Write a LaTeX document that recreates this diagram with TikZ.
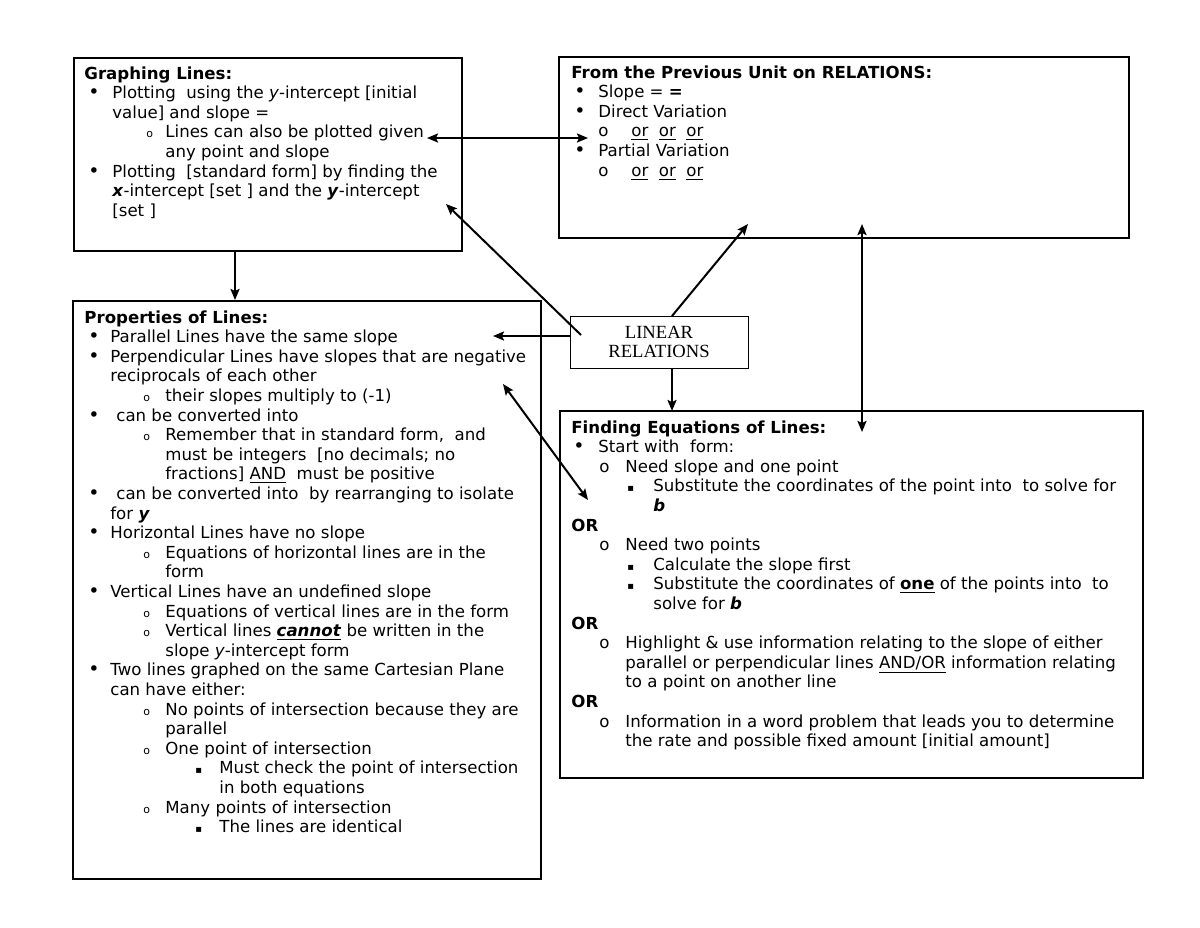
\documentclass[tikz,border=0pt]{standalone}
\usepackage{fontspec}
\setmainfont{DejaVu Sans}
\newfontfamily\relfont{Liberation Serif}
\usetikzlibrary{arrows.meta,positioning}
\tikzset{>={Stealth[length=5.5pt,width=4.5pt,inset=1pt]},
	box/.style={draw=black,line width=1pt,anchor=north west,inner sep=0pt},
	relbox/.style={draw=black,line width=0.5pt,inner sep=0pt,align=center,font=\relfont\fontsize{9.3}{9.5}\selectfont},
	txt/.style={anchor=base west,inner sep=0pt,font=\fontsize{8.3}{9.8}\selectfont},
	link/.style={->,line width=1pt},
	dlink/.style={<->,line width=1pt}}
% one printed line: marker indent, marker, text indent, text
\newcommand{\bitem}[4]{\par\noindent\rlap{\hspace*{#1}#2}\hspace*{#3}#4}
\newcommand{\smallo}{{\fontsize{5.5}{5.5}\selectfont o}}
\newcommand{\sqr}{{\fontsize{5}{5}\selectfont ▪}}
\newcommand{\bul}{{\fontsize{9.5}{9.5}\selectfont\textbullet}}
\begin{document}
\begin{tikzpicture}[x=0.5pt,y=-0.5pt]
	\useasboundingbox (0,0) rectangle (1200,927);
	% boxes
	\node (graph) at (73,57) [box,minimum width=194pt,minimum height=96.5pt] {};
	\node (prev) at (558,56) [box,minimum width=285pt,minimum height=90.5pt] {};
	\node (props) at (72,300) [box,minimum width=234pt,minimum height=289pt] {};
	\node (find) at (559,410) [box,minimum width=291.5pt,minimum height=183.5pt] {};
	\node (rel) at (659,342) [relbox,minimum width=89pt,minimum height=26pt] {LINEAR\\RELATIONS};
	% box texts
	\node (graphtxt) at (84,79) [txt] {\begin{minipage}[t]{300pt}\raggedright
		\noindent\textbf{Graphing Lines:}
		\bitem{2pt}{\bul}{14pt}{Plotting \ using the \textit{y}-intercept [initial}
		\bitem{0pt}{}{14pt}{value] and slope =}
		\bitem{31pt}{\smallo}{40.5pt}{Lines can also be plotted given}
		\bitem{0pt}{}{40.5pt}{any point and slope}
		\bitem{2pt}{\bul}{14pt}{Plotting \ [standard form] by finding the}
		\bitem{0pt}{}{14pt}{\textbf{\textit{x}}-intercept [set ] and the \textbf{\textit{y}}-intercept}
		\bitem{0pt}{}{14pt}{[set ]}
		\end{minipage}};
	\node (prevtxt) at (571,78) [txt] {\begin{minipage}[t]{300pt}\raggedright
		\noindent\textbf{From the Previous Unit on RELATIONS:}
		\bitem{1.5pt}{\bul}{13.5pt}{Slope = \textbf{=}}
		\bitem{1.5pt}{\bul}{13.5pt}{Direct Variation}
		\bitem{13.5pt}{o}{30pt}{\underline{or}\ \ \underline{or}\ \ \underline{or}}
		\bitem{1.5pt}{\bul}{13.5pt}{Partial Variation}
		\bitem{13.5pt}{o}{30pt}{\underline{or}\ \ \underline{or}\ \ \underline{or}}
		\end{minipage}};
	\node (propstxt) at (84,323) [txt] {\begin{minipage}[t]{300pt}\raggedright
		\noindent\textbf{Properties of Lines:}
		\bitem{2pt}{\bul}{13pt}{Parallel Lines have the same slope}
		\bitem{2pt}{\bul}{13pt}{Perpendicular Lines have slopes that are negative}
		\bitem{0pt}{}{13pt}{reciprocals of each other}
		\bitem{29.5pt}{\smallo}{40.5pt}{their slopes multiply to (-1)}
		\bitem{2pt}{\bul}{16pt}{can be converted into}
		\bitem{29.5pt}{\smallo}{40.5pt}{Remember that in standard form, \ and}
		\bitem{0pt}{}{40.5pt}{must be integers \ [no decimals; no}
		\bitem{0pt}{}{40.5pt}{fractions] \underline{AND} \ must be positive}
		\bitem{2pt}{\bul}{16pt}{can be converted into \ by rearranging to isolate}
		\bitem{0pt}{}{13pt}{for \textbf{\textit{y}}}
		\bitem{2pt}{\bul}{13pt}{Horizontal Lines have no slope}
		\bitem{29.5pt}{\smallo}{40.5pt}{Equations of horizontal lines are in the}
		\bitem{0pt}{}{40.5pt}{form}
		\bitem{2pt}{\bul}{13pt}{Vertical Lines have an undefined slope}
		\bitem{29.5pt}{\smallo}{40.5pt}{Equations of vertical lines are in the form}
		\bitem{29.5pt}{\smallo}{40.5pt}{Vertical lines \underline{\textbf{\textit{cannot}}} be written in the}
		\bitem{0pt}{}{40.5pt}{slope \textit{y}-intercept form}
		\bitem{2pt}{\bul}{13pt}{Two lines graphed on the same Cartesian Plane}
		\bitem{0pt}{}{13pt}{can have either:}
		\bitem{29.5pt}{\smallo}{40.5pt}{No points of intersection because they are}
		\bitem{0pt}{}{40.5pt}{parallel}
		\bitem{29.5pt}{\smallo}{40.5pt}{One point of intersection}
		\bitem{55.5pt}{\sqr}{67.5pt}{Must check the point of intersection}
		\bitem{0pt}{}{67.5pt}{in both equations}
		\bitem{29.5pt}{\smallo}{40.5pt}{Many points of intersection}
		\bitem{55.5pt}{\sqr}{67.5pt}{The lines are identical}
		\end{minipage}};
	\node (findtxt) at (571,433) [txt] {\begin{minipage}[t]{320pt}\raggedright
		\noindent\textbf{Finding Equations of Lines:}
		\bitem{1pt}{\bul}{13.5pt}{Start with \ form:}
		\bitem{14pt}{o}{27pt}{Need slope and one point}
		\bitem{28pt}{\sqr}{41pt}{Substitute the coordinates of the point into \ to solve for}
		\bitem{0pt}{}{41pt}{\textbf{\textit{b}}}
		\bitem{0pt}{}{0pt}{\textbf{OR}}
		\bitem{14pt}{o}{27pt}{Need two points}
		\bitem{28pt}{\sqr}{41pt}{Calculate the slope first}
		\bitem{28pt}{\sqr}{41pt}{Substitute the coordinates of \underline{\textbf{one}} of the points into \ to}
		\bitem{0pt}{}{41pt}{solve for \textbf{\textit{b}}}
		\bitem{0pt}{}{0pt}{\textbf{OR}}
		\bitem{14pt}{o}{27pt}{Highlight \& use information relating to the slope of either}
		\bitem{0pt}{}{27pt}{parallel or perpendicular lines \underline{AND/OR} information relating}
		\bitem{0pt}{}{27pt}{to a point on another line}
		\bitem{0pt}{}{0pt}{\textbf{OR}}
		\bitem{14pt}{o}{27pt}{Information in a word problem that leads you to determine}
		\bitem{0pt}{}{27pt}{the rate and possible fixed amount [initial amount]}
		\end{minipage}};
	% arrow ends
	\coordinate (gp1) at (235,250);
	\coordinate (gp2) at (235,300);
	\coordinate (gv1) at (427,138);
	\coordinate (gv2) at (588,138);
	\coordinate (lg1) at (581,335);
	\coordinate (lg2) at (446,204);
	\coordinate (lp1) at (570,336);
	\coordinate (lp2) at (493,336);
	\coordinate (lv1) at (672,316);
	\coordinate (lv2) at (748,224);
	\coordinate (lf1) at (672,369);
	\coordinate (lf2) at (672,411);
	\coordinate (vf1) at (862,224);
	\coordinate (vf2) at (862,432);
	\coordinate (pf1) at (503,384);
	\coordinate (pf2) at (588,500);
	\draw[link] (gp1) -- (gp2);
	\draw[dlink] (gv1) -- (gv2);
	\draw[link] (lg1) -- (lg2);
	\draw[link] (lp1) -- (lp2);
	\draw[link] (lv1) -- (lv2);
	\draw[link] (lf1) -- (lf2);
	\draw[dlink] (vf1) -- (vf2);
	\draw[dlink] (pf1) -- (pf2);
\end{tikzpicture}
\end{document}
